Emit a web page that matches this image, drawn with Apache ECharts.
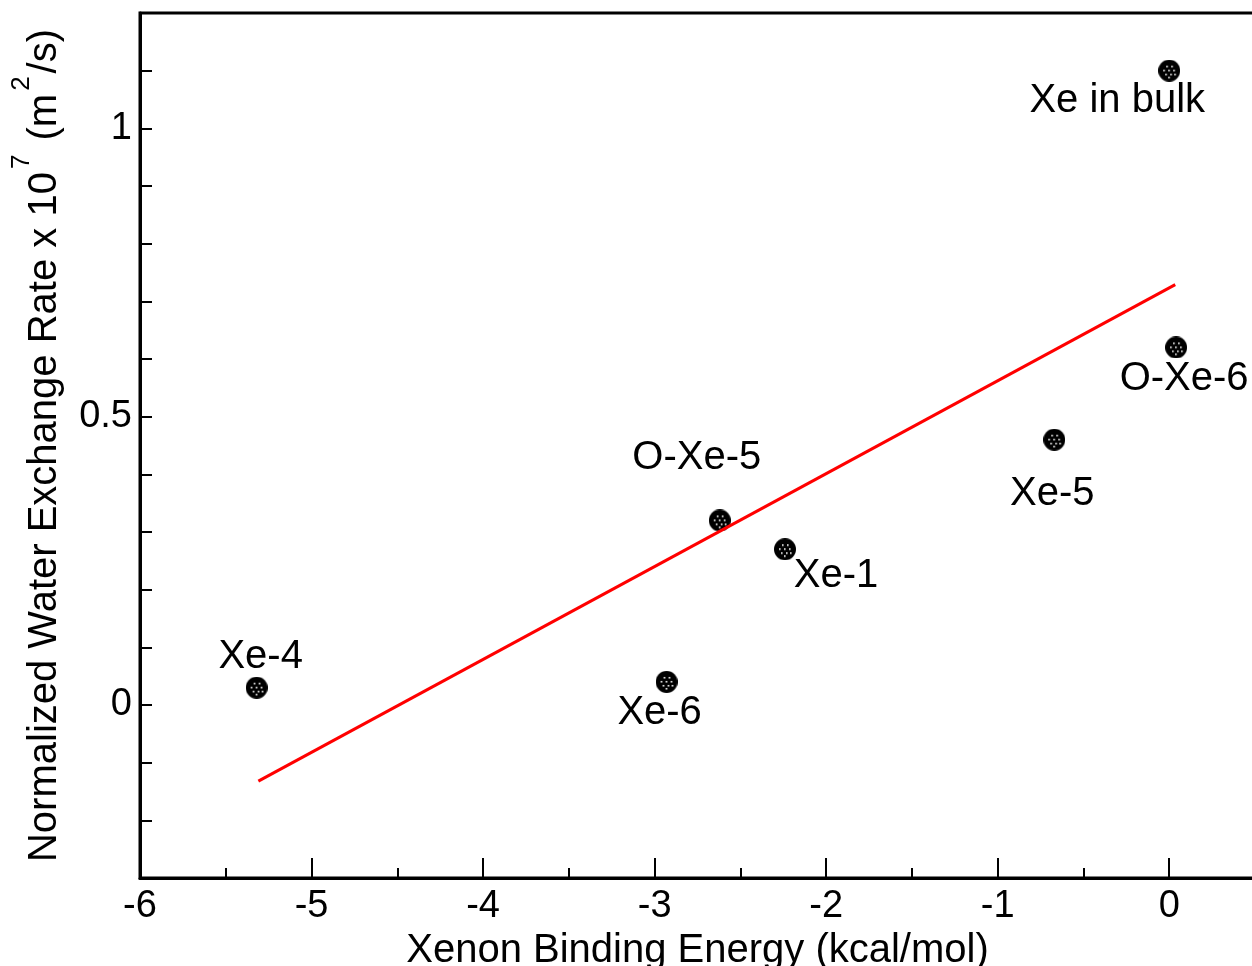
<!DOCTYPE html>
<html>
<head>
<meta charset="utf-8">
<script src="https://cdn.jsdelivr.net/npm/echarts@6/dist/echarts.min.js"></script>
<style>
  html, body { margin: 0; padding: 0; background: #fff; }
  #chart { width: 1252px; height: 966px; }
</style>
</head>
<body>
<div id="chart"></div>
<script>
// binding energy (kcal/mol) and normalized exchange rate (x 1e-7 m^2/s)
const names = ['Xe in bulk', 'O-Xe-6', 'Xe-5', 'O-Xe-5', 'Xe-1', 'Xe-6', 'Xe-4'];
const energy = [0.0, 0.04, -0.67, -2.62, -2.24, -2.93, -5.32];
const rate = [1.10, 0.62, 0.46, 0.32, 0.27, 0.04, 0.03];

// linear fit end points
const fitX = [-5.31, 0.035];
const fitY = [-0.132, 0.729];

// where each label sits around its point
const labelOffset = {
  'Xe in bulk': [-52, 30],
  'O-Xe-6': [8, 32],
  'Xe-5': [-2, 54],
  'O-Xe-5': [-23, -62],
  'Xe-1': [51, 27],
  'Xe-6': [-7, 31],
  'Xe-4': [4, -31]
};

// black disc with a few white dots, used as the marker image
const mk = document.createElement('canvas');
mk.width = 22;
mk.height = 22;
const c = mk.getContext('2d');
c.fillStyle = '#000';
c.beginPath();
c.arc(11, 11, 11, 0, Math.PI * 2);
c.fill();
c.fillStyle = '#fff';
[[8, 6], [13, 6], [5, 10], [10, 10], [15, 10], [7, 14], [12, 14], [16, 14], [10, 17]].forEach(([x, y]) => {
  c.fillRect(x, y, 1.6, 1.6);
});
const markerSymbol = 'image://' + mk.toDataURL();

const font = 'Liberation Sans, Arial, Helvetica, sans-serif';

const chart = echarts.init(document.getElementById('chart'));

const points = names.map((n, i) => ({
  name: n,
  value: [energy[i], rate[i]],
  label: { offset: labelOffset[n] }
}));

chart.setOption({
  animation: false,
  backgroundColor: '#fff',
  grid: {
    left: 140, top: 13, right: -3, bottom: 88,
    outerBoundsMode: 'none',
    containLabel: false,
    show: true, borderColor: '#000', borderWidth: 3
  },
  xAxis: {
    type: 'value',
    min: -6, max: 0.5, interval: 1,
    name: 'Xenon Binding Energy (kcal/mol)',
    nameLocation: 'middle',
    nameGap: 47,
    nameTextStyle: { fontFamily: font, fontSize: 40, color: '#000' },
    axisLine: { show: true, onZero: false, lineStyle: { color: '#000', width: 3 } },
    axisTick: { inside: true, length: 20, lineStyle: { color: '#000', width: 2 } },
    minorTick: { show: true, splitNumber: 2, length: 10, lineStyle: { color: '#000', width: 2 } },
    axisLabel: { margin: 10, fontFamily: font, fontSize: 38, color: '#000', showMaxLabel: false },
    splitLine: { show: false }
  },
  yAxis: {
    type: 'value',
    min: -0.3, max: 1.2, interval: 0.1,
    name: '{t|Normalized Water Exchange Rate x 10}{s|7}{t| (m}{s|2}{t|/s)}',
    nameLocation: 'middle',
    nameGap: 75,
    nameTextStyle: {
      fontFamily: font, fontSize: 40, color: '#000',
      rich: {
        t: { fontFamily: font, fontSize: 40, color: '#000', verticalAlign: 'bottom' },
        s: { fontFamily: font, fontSize: 26, color: '#000', verticalAlign: 'top', padding: [0, 3, 30, 3] }
      }
    },
    axisLine: { show: true, onZero: false, lineStyle: { color: '#000', width: 3 } },
    axisTick: { inside: true, length: 12, lineStyle: { color: '#000', width: 2 } },
    axisLabel: {
      margin: 8, fontFamily: font, fontSize: 38, color: '#000',
      formatter: v => {
        const d = v * 2;
        return Math.abs(d - Math.round(d)) < 1e-6 ? String(Math.round(d) / 2) : '';
      }
    },
    splitLine: { show: false }
  },
  series: [
    {
      type: 'scatter',
      data: points,
      symbol: markerSymbol,
      symbolSize: 22,
      itemStyle: { opacity: 1 },
      label: {
        show: true,
        position: 'inside',
        formatter: p => p.name,
        fontFamily: font,
        fontSize: 40,
        color: '#000'
      },
      z: 2
    },
    {
      type: 'line',
      data: fitX.map((x, i) => [x, fitY[i]]),
      symbol: 'none',
      lineStyle: { color: '#ff0000', width: 3 },
      z: 3
    }
  ]
});
</script>
</body>
</html>
